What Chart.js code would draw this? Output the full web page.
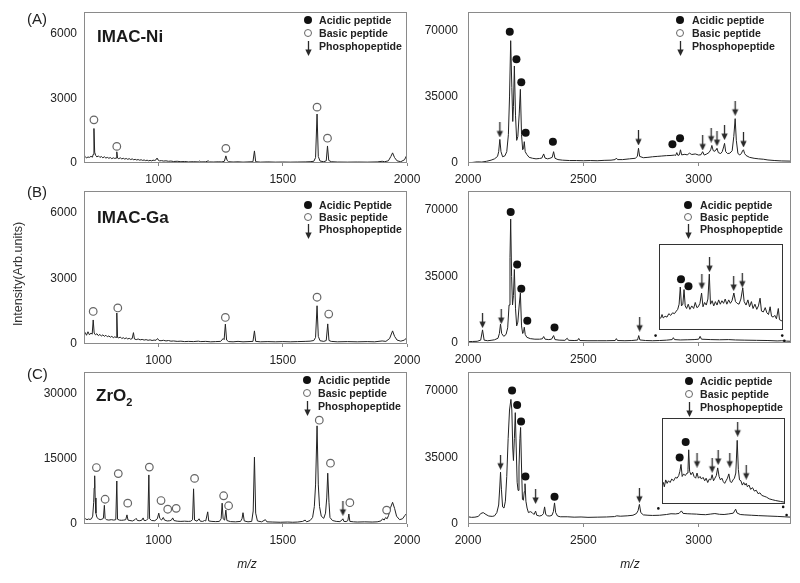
<!DOCTYPE html>
<html><head><meta charset="utf-8">
<script src="https://cdn.jsdelivr.net/npm/chart.js@4.4.0/dist/chart.umd.min.js"></script>
<style>
html,body{margin:0;padding:0;background:#fff;}
#wrap{position:relative;width:800px;height:583px;overflow:hidden;font-family:"Liberation Sans",Arial,sans-serif;color:#222;}
canvas{position:absolute;}
.t{position:absolute;white-space:nowrap;}
.sym{position:absolute;box-sizing:border-box;border-radius:50%;}
</style></head><body><div id="wrap"></div>
<script>
// ---------------- DATA ----------------
const leftXTicks = [1000, 1500, 2000];
const rightXTicks = [2000, 2500, 3000];
const leftYTicksAB = [0, 3000, 6000];
const leftYTicksC = [0, 15000, 30000];
const rightYTicks = [0, 35000, 70000];
const legendLabels = ['Acidic peptide', 'Basic peptide', 'Phosphopeptide'];
const legendLabelsBL = ['Acidic Peptide', 'Basic peptide', 'Phosphopeptide'];
const titles = ['IMAC-Ni', 'IMAC-Ga', 'ZrO<sub>2</sub>'];
const panelLabels = ['(A)', '(B)', '(C)'];
const axisTitleY = 'Intensity(Arb.units)';
const axisTitleX = 'm/z';

// Row A, left (m/z, intensity)
const specAL = [[700,250],[705,300],[710,230],[716,280],[722,260],[728,310],[734,270],[737,400],[740,1600],[743,500],[747,350],[752,280],[758,330],[764,260],[770,300],[776,240],[782,290],[788,230],[794,260],[800,220],[806,250],[812,200],[818,240],[824,210],[829,230],[832,520],[835,230],[840,200],[846,240],[852,190],[858,220],[864,180],[870,210],[876,170],[882,200],[888,160],[894,190],[900,150],[906,170],[912,140],[918,160],[924,130],[930,150],[936,120],[942,140],[948,110],[954,130],[960,100],[966,120],[972,100],[978,130],[985,120],[990,150],[994,230],[998,140],[1004,100],[1012,110],[1020,90],[1030,100],[1040,80],[1050,90],[1060,70],[1075,80],[1090,60],[1105,70],[1120,50],[1140,60],[1160,50],[1165,90],[1170,50],[1190,55],[1200,100],[1205,50],[1220,45],[1240,55],[1255,50],[1265,80],[1271,330],[1276,120],[1282,60],[1300,45],[1320,55],[1340,40],[1360,50],[1380,60],[1386,560],[1391,60],[1410,40],[1440,50],[1470,40],[1500,45],[1530,40],[1560,45],[1590,50],[1610,60],[1625,80],[1632,250],[1638,2270],[1643,300],[1650,90],[1665,60],[1675,100],[1680,790],[1685,120],[1695,60],[1720,45],[1760,40],[1800,45],[1840,40],[1880,50],[1900,80],[1910,60],[1925,100],[1935,300],[1942,470],[1950,250],[1960,100],[1975,60],[1990,150],[2000,380]];
const openAL = [[740,2000],[832,770],[1271,680],[1638,2590],[1680,1150]];

// Row A, right
const specAR = [[2000,150],[2020,300],[2040,600],[2060,500],[2080,900],[2100,1500],[2115,2200],[2128,3500],[2133,6000],[2138,12500],[2143,6000],[2150,3300],[2160,3800],[2168,6000],[2175,15000],[2180,35000],[2185,64800],[2190,40000],[2194,22000],[2197,30000],[2201,51400],[2206,25000],[2211,12000],[2216,14000],[2222,26000],[2227,39000],[2232,15000],[2237,7000],[2241,8000],[2244,11300],[2248,6000],[2255,4500],[2265,3000],[2280,2500],[2295,2200],[2310,2400],[2320,2600],[2328,4800],[2334,2600],[2345,2200],[2355,2500],[2365,3000],[2371,6000],[2377,2500],[2390,1800],[2410,1500],[2440,1300],[2470,1300],[2500,1200],[2530,1300],[2560,1200],[2590,1400],[2620,1500],[2638,1800],[2643,2600],[2648,1800],[2670,1800],[2700,2200],[2725,2500],[2734,3500],[2739,7800],[2744,3500],[2760,2800],[2780,3000],[2800,3300],[2820,3500],[2840,3700],[2860,3900],[2880,4000],[2895,4200],[2900,4000],[2905,5500],[2910,4000],[2916,4300],[2921,7000],[2926,4300],[2940,4600],[2950,4300],[2960,5200],[2970,4500],[2985,4800],[3000,4200],[3010,4400],[3017,6000],[3024,4200],[3035,4800],[3045,5600],[3052,7000],[3057,9300],[3063,6500],[3070,6200],[3075,7200],[3079,7800],[3085,5500],[3095,5000],[3102,6000],[3108,8500],[3112,10400],[3117,6000],[3125,5000],[3135,5200],[3145,6500],[3152,14000],[3158,23500],[3163,12000],[3170,5000],[3178,4300],[3185,5000],[3190,6500],[3194,7000],[3199,5000],[3205,4000],[3220,3000],[3240,2500],[3260,2200],[3280,2000],[3300,1600],[3330,1300],[3360,1100],[3400,1000]];
const filledAR = [[2181,69600],[2210,55000],[2231,42800],[2250,16000],[2368,11300],[2886,9900],[2919,13100]];
const arrowsAR = [[2138,17500],[2739,13250],[3017,10600],[3054,14800],[3079,12900],[3112,16100],[3158,29000],[3194,12200]];

// Row B, left
const specBL = [[700,450],[705,520],[710,400],[716,560],[722,420],[728,500],[733,450],[737,1100],[741,500],[746,420],[752,470],[758,380],[764,440],[770,360],[776,420],[782,350],[788,400],[794,330],[800,370],[806,310],[812,350],[818,290],[824,330],[829,300],[832,1420],[835,300],[840,280],[846,320],[852,250],[858,290],[864,240],[870,280],[876,230],[882,260],[888,220],[894,250],[899,520],[903,230],[910,200],[918,230],[926,190],[934,210],[942,180],[950,200],[958,170],[966,190],[974,160],[982,180],[990,170],[996,250],[1002,160],[1010,150],[1020,170],[1030,140],[1040,160],[1050,130],[1060,140],[1075,120],[1090,130],[1105,110],[1120,120],[1140,110],[1160,130],[1170,110],[1190,120],[1210,100],[1230,110],[1250,120],[1260,250],[1264,200],[1269,910],[1274,180],[1282,110],[1300,100],[1320,120],[1340,100],[1360,110],[1380,120],[1386,600],[1391,120],[1410,100],[1440,110],[1470,100],[1500,110],[1530,100],[1560,110],[1590,120],[1610,130],[1625,160],[1632,300],[1638,1750],[1643,350],[1650,150],[1665,120],[1675,160],[1681,920],[1686,160],[1695,120],[1720,100],[1760,110],[1800,100],[1840,110],[1870,100],[1900,140],[1915,120],[1930,250],[1942,600],[1950,350],[1960,180],[1975,130],[1990,180],[2000,300]];
const openBL = [[737,1490],[836,1650],[1269,1215],[1638,2140],[1685,1370]];

// Row B, right
const specBR = [[2000,700],[2020,800],[2040,900],[2055,1500],[2063,6900],[2070,1500],[2085,1200],[2100,1400],[2115,1700],[2130,2500],[2136,5000],[2141,10000],[2146,5000],[2155,3500],[2165,4500],[2172,8000],[2178,20000],[2182,45000],[2185,65200],[2189,35000],[2193,20000],[2197,25000],[2201,38700],[2206,18000],[2211,9000],[2216,11000],[2222,20000],[2227,26300],[2232,9000],[2237,5000],[2241,6000],[2244,8300],[2248,4500],[2255,3000],[2270,2300],[2290,2000],[2310,2000],[2322,2200],[2328,3400],[2334,2000],[2350,1800],[2362,2000],[2371,3900],[2377,1800],[2395,1500],[2420,1400],[2430,2500],[2436,1400],[2460,1300],[2475,1400],[2480,2400],[2485,1300],[2520,1200],[2560,1200],[2600,1200],[2638,1300],[2643,2300],[2648,1300],[2680,1200],[2710,1300],[2735,1600],[2740,3900],[2745,1600],[2770,1300],[2800,1200],[2830,1300],[2860,1500],[2885,1800],[2890,2800],[2895,1800],[2920,1600],[2950,1700],[2980,1800],[3000,2000],[3006,3500],[3012,2000],[3050,1800],[3090,1700],[3130,1800],[3160,1600],[3200,1500],[3250,1400],[3300,1300],[3340,1100],[3360,1200],[3380,1000],[3400,900]];
const filledBR = [[2185,69000],[2213,41300],[2231,28500],[2257,11700],[2375,8100]];
const arrowsBR = [[2063,11800],[2144,13900],[2744,9900]];
const rangeDotsB = [[2813,3900],[3362,3900],[3371,1200]];

// Inset B (m/z 2830-3360, relative intensity 0-100)
const insetBSpec = [[2830,13],[2838,14],[2843,18],[2848,14],[2856,16],[2864,15],[2872,19],[2880,17],[2888,20],[2896,19],[2904,22],[2910,24],[2916,30],[2921,50],[2926,28],[2932,30],[2937,47],[2942,28],[2948,25],[2955,30],[2962,24],[2970,28],[2978,25],[2985,32],[2992,26],[2998,27],[3005,31],[3012,43],[3018,27],[3025,32],[3032,29],[3039,36],[3045,65],[3050,30],[3057,34],[3064,28],[3071,33],[3078,29],[3085,35],[3092,30],[3099,34],[3106,31],[3113,36],[3120,30],[3128,35],[3135,31],[3142,34],[3150,43],[3157,33],[3164,31],[3172,30],[3180,36],[3188,49],[3194,33],[3202,29],[3210,35],[3217,27],[3225,33],[3232,25],[3240,30],[3248,24],[3255,28],[3262,37],[3268,22],[3276,21],[3284,26],[3291,20],[3298,18],[3305,27],[3311,16],[3318,15],[3325,17],[3332,13],[3340,25],[3345,12],[3352,11],[3360,10]];
const insetBFilled = [[2924,59],[2956,51]];
const insetBArrows = [[3013,56],[3046,76],[3149,54],[3186,58]];

// Row C, left
const specCL = [[700,1100],[706,1200],[712,1000],[718,1150],[724,1050],[730,1200],[735,1800],[739,5000],[741,8300],[743,11100],[745,6000],[748,2500],[752,1500],[758,1200],[765,1000],[772,1100],[778,1300],[782,4300],[785,1300],[790,1000],[800,900],[810,1000],[820,900],[828,1000],[832,9900],[835,1100],[842,900],[850,850],[860,900],[868,1000],[873,2100],[877,900],[885,800],[895,700],[905,1000],[910,1300],[915,800],[925,750],[933,900],[938,1400],[942,800],[950,800],[957,1200],[961,11300],[964,1200],[972,800],[985,750],[995,1200],[1001,2500],[1005,1300],[1012,900],[1019,1500],[1024,900],[1035,700],[1045,750],[1052,900],[1057,1400],[1062,800],[1075,650],[1090,600],[1105,650],[1120,600],[1130,650],[1137,1000],[1141,8100],[1145,900],[1155,650],[1163,1200],[1168,650],[1178,600],[1185,800],[1190,700],[1198,2800],[1202,700],[1215,600],[1230,550],[1245,600],[1252,1200],[1256,4800],[1260,1200],[1266,900],[1271,3200],[1275,800],[1290,550],[1310,500],[1330,600],[1336,1200],[1340,2600],[1345,700],[1360,500],[1375,600],[1381,3000],[1386,15400],[1391,2500],[1398,700],[1415,500],[1430,1000],[1436,500],[1460,450],[1490,400],[1520,450],[1540,400],[1560,450],[1580,600],[1590,900],[1596,500],[1610,800],[1620,1500],[1627,4000],[1632,9000],[1638,22600],[1643,9000],[1648,4000],[1655,1800],[1665,1300],[1672,2500],[1677,6000],[1681,11700],[1686,5000],[1690,1500],[1700,800],[1715,600],[1730,550],[1738,900],[1742,1200],[1746,600],[1755,550],[1762,800],[1766,2300],[1770,600],[1785,500],[1800,450],[1830,500],[1860,450],[1880,500],[1895,700],[1902,1200],[1908,900],[1914,1500],[1920,1200],[1926,2000],[1934,3800],[1942,5000],[1950,3600],[1958,1800],[1970,1000],[1982,1200],[1992,2000],[2000,2500]];
const openCL = [[750,13000],[785,5700],[838,11600],[876,4800],[963,13100],[1010,5400],[1037,3400],[1071,3600],[1145,10500],[1262,6500],[1282,4200],[1647,23900],[1692,14000],[1770,4900],[1918,3200]];
const arrowsCL = [[1742,3600]];

// Row C, right
const specCR = [[2000,3800],[2015,3500],[2030,3600],[2045,4000],[2055,5500],[2066,6000],[2078,5000],[2090,4200],[2105,4000],[2115,4300],[2125,6000],[2133,10000],[2138,20000],[2141,27300],[2145,18000],[2150,9000],[2156,8400],[2162,12000],[2168,25000],[2174,45000],[2180,60000],[2186,65600],[2190,60000],[2194,40000],[2197,33400],[2201,45000],[2205,58600],[2209,40000],[2213,22000],[2217,17700],[2221,30000],[2225,45000],[2228,50800],[2232,30000],[2236,13000],[2240,12500],[2244,17000],[2247,21200],[2251,12000],[2256,8400],[2262,6000],[2270,6500],[2278,6000],[2286,5000],[2293,6800],[2298,4600],[2310,4200],[2320,4500],[2327,5500],[2332,9000],[2337,5000],[2345,4300],[2355,4200],[2364,4600],[2370,6500],[2375,11100],[2380,6000],[2388,4200],[2400,3800],[2430,3800],[2460,3600],[2490,3700],[2520,3500],[2560,3600],[2600,3700],[2635,3900],[2645,4300],[2660,4100],[2690,4300],[2715,4600],[2730,5500],[2737,7000],[2743,10300],[2749,6000],[2760,4800],[2780,4600],[2800,4500],[2830,4600],[2860,5000],[2880,5400],[2900,5300],[2915,5600],[2925,6900],[2932,5600],[2950,5400],[2970,5300],[2990,5200],[3010,5000],[3030,4900],[3050,5200],[3070,5500],[3090,5100],[3110,5000],[3130,5300],[3150,5700],[3160,7800],[3166,5800],[3180,5000],[3200,4800],[3230,4600],[3260,4400],[3300,4200],[3340,4000],[3370,3800],[3400,3600]];
const filledCR = [[2191,70300],[2213,62600],[2230,53900],[2249,25000],[2375,14300]];
const arrowsCR = [[2141,32500],[2293,14500],[2743,15100]];
const rangeDotsC = [[2825,8200],[3366,9000],[3381,4700]];

// Inset C (m/z 2830-3360, relative intensity 0-100)
const insetCSpec = [[2830,21],[2836,25],[2840,20],[2846,28],[2852,24],[2858,27],[2865,25],[2872,29],[2880,27],[2888,31],[2895,30],[2902,33],[2907,38],[2912,46],[2917,32],[2923,35],[2930,33],[2938,36],[2942,40],[2945,63],[2949,38],[2955,34],[2962,37],[2968,32],[2975,30],[2981,36],[2987,30],[2994,32],[3000,29],[3007,31],[3014,27],[3020,30],[3027,25],[3034,29],[3040,28],[3046,34],[3052,27],[3058,30],[3064,33],[3070,42],[3076,32],[3082,28],[3088,30],[3094,26],[3100,24],[3106,27],[3112,30],[3118,35],[3124,26],[3130,25],[3136,28],[3142,30],[3148,36],[3154,74],[3159,40],[3164,28],[3170,27],[3176,22],[3182,25],[3188,22],[3193,24],[3198,20],[3205,22],[3212,17],[3220,19],[3228,15],[3236,16],[3244,12],[3252,13],[3260,10],[3270,9],[3280,8],[3292,6],[3305,5],[3320,4],[3340,3],[3360,2]];
const insetCFilled = [[2906,54],[2932,72]];
const insetCArrows = [[2981,51],[3046,45],[3072,54],[3122,51],[3156,87],[3193,37]];

// ---------------- RENDER ----------------
const FONT = '"Liberation Sans", Arial, sans-serif';
Chart.defaults.font.family = FONT;
const wrap = document.getElementById('wrap');
const toXY = a => a.map(p => ({x: p[0], y: p[1]}));

const arrowImg = (() => {
  const c = document.createElement('canvas'); c.width = 9; c.height = 15;
  const g = c.getContext('2d');
  g.strokeStyle = '#2a2a2a'; g.fillStyle = '#2a2a2a'; g.lineWidth = 1.3;
  g.beginPath(); g.moveTo(4.5, 0); g.lineTo(4.5, 11); g.stroke();
  g.beginPath(); g.moveTo(1.3, 8.5); g.lineTo(7.7, 8.5); g.lineTo(4.5, 15); g.closePath(); g.fill();
  return c;
})();

const framePlugin = {
  id: 'frame',
  beforeDraw(chart, args, opts) {
    if (!opts.bg) return;
    const {ctx, chartArea: a} = chart;
    ctx.save(); ctx.fillStyle = '#fff'; ctx.fillRect(a.left, a.top, a.right - a.left, a.bottom - a.top); ctx.restore();
  },
  afterDraw(chart, args, opts) {
    const {ctx, chartArea: a} = chart;
    ctx.save(); ctx.strokeStyle = opts.color || '#888'; ctx.lineWidth = 1;
    ctx.strokeRect(Math.round(a.left) + 0.5, Math.round(a.top) + 0.5, Math.round(a.right - a.left) - 1, Math.round(a.bottom - a.top) - 1);
    ctx.restore();
  }
};

function markerSets(filled, open, arrows, dots) {
  const ds = [];
  if (filled) ds.push({type: 'scatter', showLine: false, data: toXY(filled), pointStyle: 'circle', pointRadius: 4, backgroundColor: '#111', borderColor: '#111', borderWidth: 0, order: 1});
  if (open) ds.push({type: 'scatter', showLine: false, data: toXY(open), pointStyle: 'circle', pointRadius: 3.8, backgroundColor: '#fff', borderColor: '#666', borderWidth: 1.2, order: 1});
  if (arrows) ds.push({type: 'scatter', showLine: false, data: toXY(arrows), pointStyle: arrowImg, pointRadius: 5, order: 1});
  if (dots) ds.push({type: 'scatter', showLine: false, data: toXY(dots), pointStyle: 'circle', pointRadius: 1.3, backgroundColor: '#111', borderWidth: 0, order: 1});
  return ds;
}

function mainChart(p) {
  const cv = document.createElement('canvas');
  cv.width = p.cw; cv.height = p.ch;
  Object.assign(cv.style, {left: p.cx + 'px', top: p.cy + 'px', width: p.cw + 'px', height: p.ch + 'px'});
  wrap.appendChild(cv);
  const datasets = [{type: 'line', data: toXY(p.spec), borderColor: '#222', borderWidth: 1, pointRadius: 0, tension: 0, order: 3}]
    .concat(markerSets(p.filled, p.open, p.arrows, p.dots));
  new Chart(cv, {
    type: 'line',
    data: {datasets},
    options: {
      responsive: false, animation: false, events: [],
      layout: {autoPadding: false, padding: {left: 0, top: p.aTop - p.cy, right: p.cx + p.cw - p.aRight, bottom: 0}},
      plugins: {legend: {display: false}, tooltip: {enabled: false}, frame: {color: '#8a8a8a'}},
      scales: {
        x: {
          type: 'linear', min: p.xmin, max: p.xmax,
          afterBuildTicks: s => { s.ticks = p.xticks.map(v => ({value: v})); },
          afterFit: s => { s.height = p.cy + p.ch - p.aBottom; s.paddingLeft = 0; s.paddingRight = 0; s.paddingTop = 0; s.paddingBottom = 0; },
          ticks: {callback: v => String(v), font: {family: FONT, size: 12}, color: '#222', padding: 6, maxRotation: 0, autoSkip: false},
          grid: {display: true, drawOnChartArea: false, drawTicks: true, tickLength: 3, color: '#888'},
          border: {display: false}
        },
        y: {
          type: 'linear', min: p.ymin, max: p.ymax,
          afterBuildTicks: s => { s.ticks = p.yticks.map(v => ({value: v})); },
          afterFit: s => { s.width = p.aLeft - p.cx; s.paddingTop = 0; s.paddingBottom = 0; s.paddingLeft = 0; s.paddingRight = 0; },
          ticks: {callback: v => String(v), font: {family: FONT, size: 12}, color: '#222', padding: p.ypad, autoSkip: false},
          grid: {display: false, drawTicks: false},
          border: {display: false}
        }
      }
    },
    plugins: [framePlugin]
  });
}

function insetChart(p) {
  const cv = document.createElement('canvas');
  cv.width = p.w; cv.height = p.h;
  Object.assign(cv.style, {left: p.x + 'px', top: p.y + 'px', width: p.w + 'px', height: p.h + 'px'});
  wrap.appendChild(cv);
  const datasets = [{type: 'line', data: toXY(p.spec), borderColor: '#222', borderWidth: 1, pointRadius: 0, tension: 0, order: 3}]
    .concat(markerSets(p.filled, null, p.arrows, null));
  new Chart(cv, {
    type: 'line', data: {datasets},
    options: {
      responsive: false, animation: false, events: [],
      layout: {autoPadding: false, padding: 0},
      plugins: {legend: {display: false}, tooltip: {enabled: false}, frame: {color: '#333', bg: true}},
      scales: {x: {type: 'linear', display: false, min: 2830, max: 3360}, y: {type: 'linear', display: false, min: 0, max: 100}}
    },
    plugins: [framePlugin]
  });
}

const L = {cx: 0, cw: 430, aLeft: 84, aRight: 407, xmin: 700, xmax: 2000, xticks: leftXTicks, ypad: 7};
const R = {cx: 400, cw: 400, aLeft: 468, aRight: 791, xmin: 2000, xmax: 3400, xticks: rightXTicks, ypad: 10, ymin: 0, ymax: 80000, yticks: rightYTicks};

mainChart(Object.assign({}, L, {cy: 0, ch: 190, aTop: 12, aBottom: 163, ymin: 0, ymax: 7000, yticks: leftYTicksAB, spec: specAL, open: openAL}));
mainChart(Object.assign({}, R, {cy: 0, ch: 190, aTop: 12, aBottom: 163, spec: specAR, filled: filledAR, arrows: arrowsAR}));
mainChart(Object.assign({}, L, {cy: 185, ch: 185, aTop: 191, aBottom: 344, ymin: 0, ymax: 7000, yticks: leftYTicksAB, spec: specBL, open: openBL}));
mainChart(Object.assign({}, R, {cy: 185, ch: 185, aTop: 191, aBottom: 343, spec: specBR, filled: filledBR, arrows: arrowsBR, dots: rangeDotsB}));
mainChart(Object.assign({}, L, {cy: 365, ch: 200, aTop: 372, aBottom: 524, ymin: 0, ymax: 35000, yticks: leftYTicksC, spec: specCL, open: openCL, arrows: arrowsCL}));
mainChart(Object.assign({}, R, {cy: 365, ch: 200, aTop: 372, aBottom: 524, spec: specCR, filled: filledCR, arrows: arrowsCR, dots: rangeDotsC}));

insetChart({x: 659, y: 244, w: 124, h: 86, spec: insetBSpec, filled: insetBFilled, arrows: insetBArrows});
insetChart({x: 662, y: 418, w: 123, h: 86, spec: insetCSpec, filled: insetCFilled, arrows: insetCArrows});

// ---------------- TEXT OVERLAYS ----------------
function txt(html, left, top, style) {
  const d = document.createElement('div'); d.className = 't'; d.innerHTML = html;
  d.style.left = left + 'px'; d.style.top = top + 'px';
  Object.assign(d.style, style || {});
  wrap.appendChild(d); return d;
}
function legend(cx, rows, textLeft, labels, fs) {
  const f = document.createElement('div'); f.className = 'sym';
  Object.assign(f.style, {left: (cx - 4) + 'px', top: (rows[0] - 4) + 'px', width: '8px', height: '8px', background: '#111'});
  wrap.appendChild(f);
  const o = document.createElement('div'); o.className = 'sym';
  Object.assign(o.style, {left: (cx - 4) + 'px', top: (rows[1] - 4) + 'px', width: '8px', height: '8px', border: '1.2px solid #666', background: '#fff'});
  wrap.appendChild(o);
  const im = document.createElement('img'); im.src = arrowImg.toDataURL();
  Object.assign(im.style, {position: 'absolute', left: (cx - 4.5) + 'px', top: (rows[2] - 5) + 'px', width: '9px', height: '15px'});
  wrap.appendChild(im);
  labels.forEach((l, i) => txt(l, textLeft, rows[i] - fs * 0.5, {font: `bold ${fs}px ${FONT}`, lineHeight: fs + 'px', color: '#222'}));
}

legend(308, [20, 33, 46], 319, legendLabels, 10.6);
legend(680, [20, 33, 46], 692, legendLabels, 10.6);
legend(308, [205, 217, 229], 319, legendLabelsBL, 10.6);
legend(688, [205, 217, 229], 700, legendLabels, 10.6);
legend(307, [380, 393, 406], 318, legendLabels, 10.6);
legend(689, [381, 394, 407], 700, legendLabels, 10.6);

const titleStyle = {font: `bold 17px ${FONT}`, lineHeight: '17px', color: '#1a1a1a'};
txt(titles[0], 97, 28.3, titleStyle);
txt(titles[1], 97, 209, titleStyle);
txt('ZrO<span style="font-size:11px;position:relative;top:5px">2</span>', 96, 386.6, titleStyle);

const plStyle = {font: `15px ${FONT}`, lineHeight: '15px', color: '#222'};
txt(panelLabels[0], 27, 10.8, plStyle);
txt(panelLabels[1], 27, 184, plStyle);
txt(panelLabels[2], 27, 365.6, plStyle);

txt(axisTitleY, 18, 274, {font: `12.5px ${FONT}`, color: '#333', transform: 'translate(-50%,-50%) rotate(-90deg)'});
txt(axisTitleX, 247, 564, {font: `italic 12px ${FONT}`, color: '#222', transform: 'translate(-50%,-50%)'});
txt(axisTitleX, 630, 564, {font: `italic 12px ${FONT}`, color: '#222', transform: 'translate(-50%,-50%)'});
</script></body></html>
